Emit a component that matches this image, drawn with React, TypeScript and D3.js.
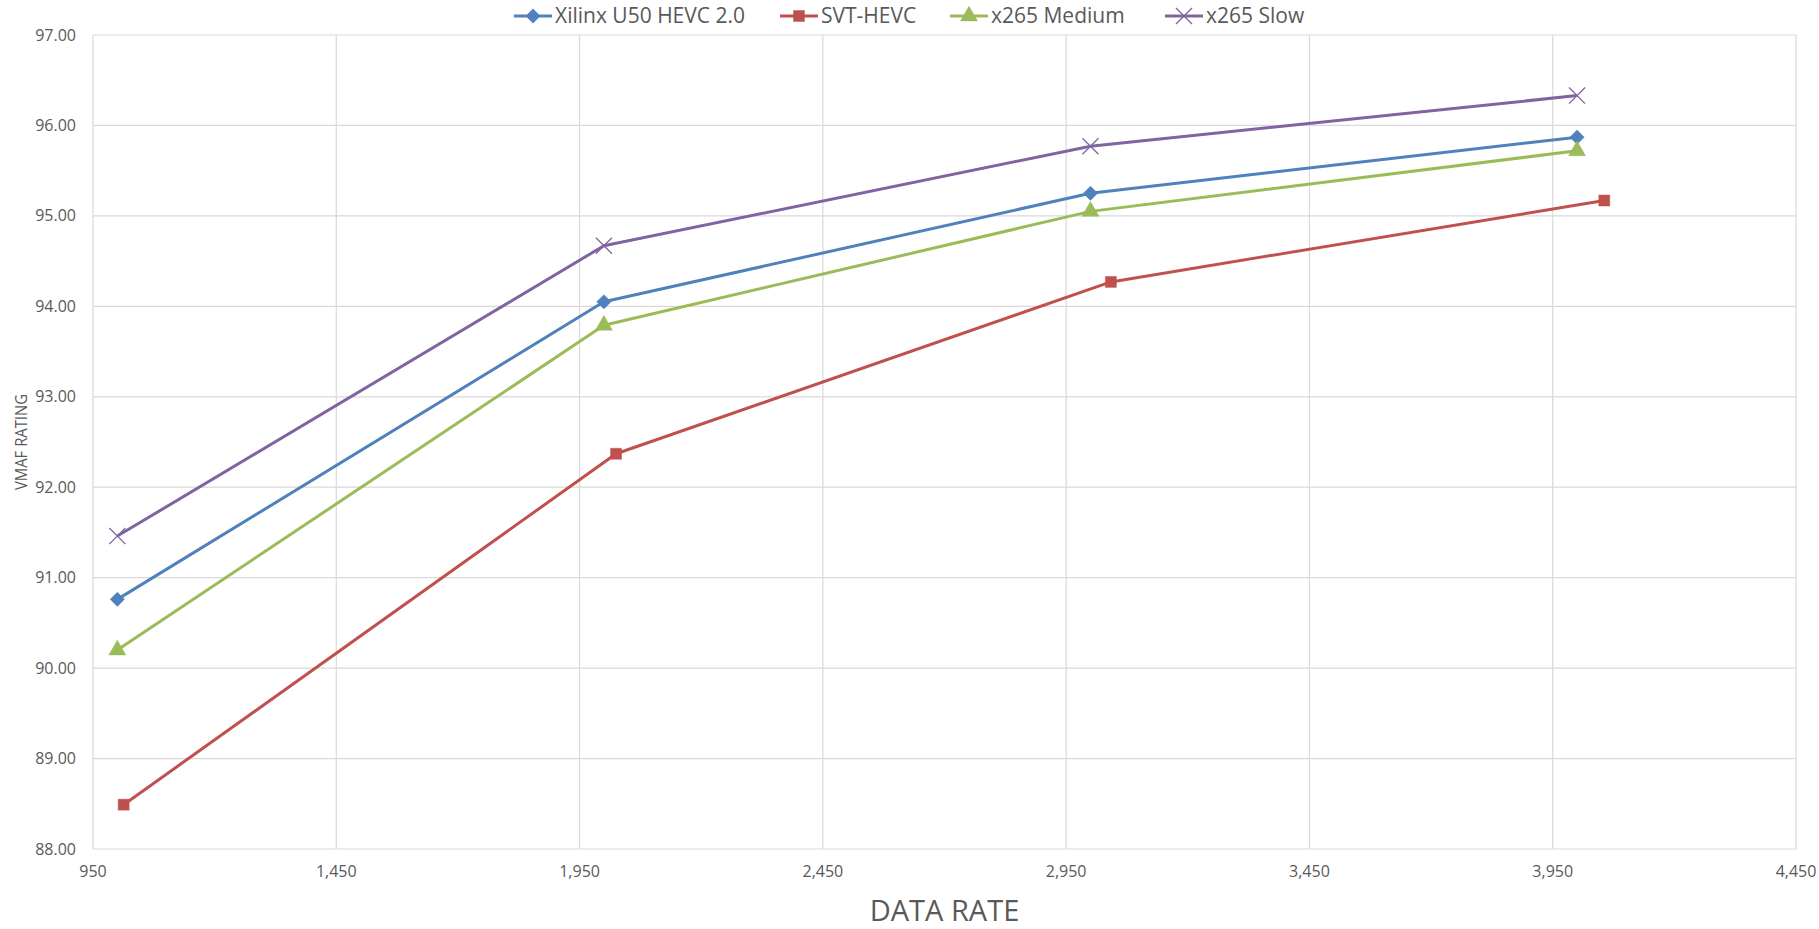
import React from "react";
import * as d3 from "d3";

const seriesNames = ["Xilinx U50 HEVC 2.0", "SVT-HEVC", "x265 Medium", "x265 Slow"];
const xilinxRate = [1000, 2000, 3000, 4000];
const xilinxVmaf = [90.76, 94.05, 95.25, 95.87];
const svtRate = [1013, 2025, 3042, 4056];
const svtVmaf = [88.49, 92.37, 94.27, 95.17];
const mediumRate = [1000, 2000, 3000, 4000];
const mediumVmaf = [90.2, 93.79, 95.05, 95.72];
const slowRate = [1000, 2000, 3000, 4000];
const slowVmaf = [91.46, 94.67, 95.77, 96.33];
const xTicks = [950, 1450, 1950, 2450, 2950, 3450, 3950, 4450];
const yTicks = [88, 89, 90, 91, 92, 93, 94, 95, 96, 97];

const W = 1819;
const H = 929;
const colors = ["#4F81BD", "#C0504D", "#9BBB59", "#8064A2"];
const markerTypes = ["diamond", "square", "triangle", "times"];
const legendStarts = [514, 780, 950, 1165];
const FONT = "'Open Sans', sans-serif";

function Marker({ type, x, y, color }: { type: string; x: number; y: number; color: string }) {
  if (type === "times") {
    const p = d3.symbol().type(d3.symbolTimes).size(170)();
    return <path d={p || ""} transform={`translate(${x},${y})`} fill="none" stroke={color} strokeWidth={1.3} />;
  }
  const t = type === "diamond" ? (d3 as any).symbolDiamond2 || d3.symbolDiamond : type === "square" ? d3.symbolSquare : d3.symbolTriangle;
  const size = type === "diamond" ? 130 : type === "square" ? 120 : 125;
  const p = d3.symbol().type(t).size(size)();
  return <path d={p || ""} transform={`translate(${x},${y})`} fill={color} stroke={color} strokeWidth={0.5} />;
}

export default function App() {
  React.useEffect(() => {
    document.body.style.margin = "0";
    document.body.style.overflow = "hidden";
  }, []);

  const x = d3.scaleLinear().domain([950, 4450]).range([93, 1796]);
  const y = d3.scaleLinear().domain([88, 97]).range([849, 35]);

  const series = [
    { rate: xilinxRate, vmaf: xilinxVmaf },
    { rate: svtRate, vmaf: svtVmaf },
    { rate: mediumRate, vmaf: mediumVmaf },
    { rate: slowRate, vmaf: slowVmaf },
  ];

  const line = d3
    .line<[number, number]>()
    .x((d) => x(d[0]))
    .y((d) => y(d[1]));

  return (
    <svg width={W} height={H} style={{ position: "absolute", left: 0, top: 0, background: "#fff" }} fontFamily={FONT}>
      <rect x={0} y={0} width={W} height={H} fill="#fff" />
      {yTicks.map((t) => (
        <g key={"y" + t}>
          <line x1={x(950)} x2={x(4450)} y1={y(t)} y2={y(t)} stroke="#d9d9d9" strokeWidth={1.2} />
          <text x={76} y={y(t)} dy="0.35em" textAnchor="end" fontSize={16} fill="#595959">
            {d3.format(".2f")(t)}
          </text>
        </g>
      ))}
      {xTicks.map((t) => (
        <g key={"x" + t}>
          <line x1={x(t)} x2={x(t)} y1={y(97)} y2={y(88)} stroke="#d9d9d9" strokeWidth={1.2} />
          <text x={x(t)} y={877} textAnchor="middle" fontSize={16} fill="#595959">
            {d3.format(",")(t)}
          </text>
        </g>
      ))}
      {series.map((s, i) => {
        const pts: [number, number][] = s.rate.map((r, j) => [r, s.vmaf[j]]);
        return (
          <g key={"s" + i}>
            <path d={line(pts) || ""} fill="none" stroke={colors[i]} strokeWidth={3} strokeLinejoin="round" />
            {pts.map((p, j) => (
              <Marker key={j} type={markerTypes[i]} x={x(p[0])} y={y(p[1])} color={colors[i]} />
            ))}
          </g>
        );
      })}
      {seriesNames.map((name, i) => {
        const x0 = legendStarts[i];
        const ly = 16;
        return (
          <g key={"l" + i}>
            <line x1={x0} x2={x0 + 38} y1={ly} y2={ly} stroke={colors[i]} strokeWidth={3} />
            <Marker type={markerTypes[i]} x={x0 + 19} y={ly} color={colors[i]} />
            <text x={x0 + 41} y={ly} dy="0.35em" fontSize={21} fill="#595959">
              {name}
            </text>
          </g>
        );
      })}
      <text
        transform={`translate(27,${(y(88) + y(97)) / 2}) rotate(-90)`}
        textAnchor="middle"
        fontSize={16}
        textLength={96}
        lengthAdjust="spacingAndGlyphs"
        fill="#595959"
      >
        VMAF RATING
      </text>
      <text x={(x(950) + x(4450)) / 2} y={921} textAnchor="middle" fontSize={29} fill="#595959">
        DATA RATE
      </text>
    </svg>
  );
}
